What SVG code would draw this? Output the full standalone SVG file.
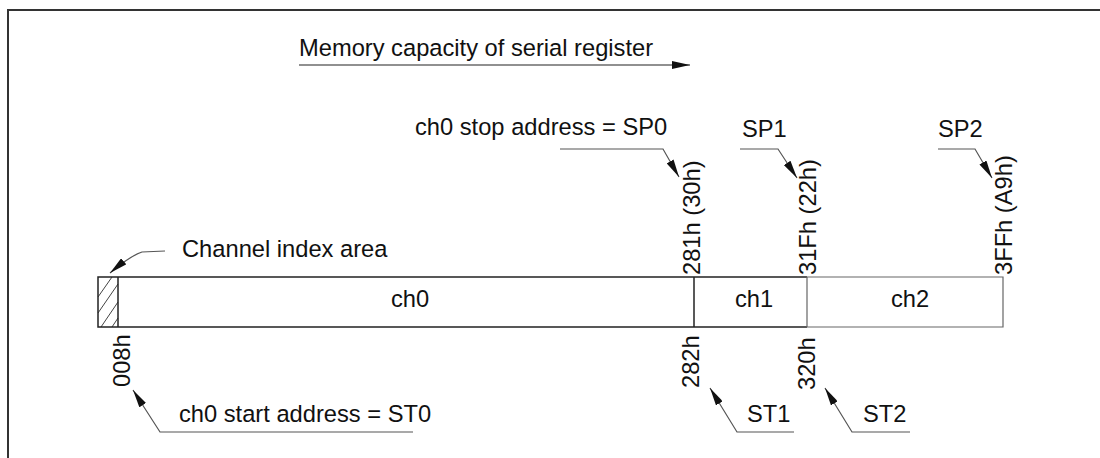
<svg xmlns="http://www.w3.org/2000/svg" width="1100" height="458" viewBox="0 0 1100 458">
<style>
text{font-family:"Liberation Sans",Arial,sans-serif;font-size:23.7px;fill:#111}
.frame{fill:none;stroke:#333;stroke-width:2}
.bar{fill:none;stroke:#222;stroke-width:1.5}
.thin{fill:none;stroke:#666;stroke-width:1.2}
.lead{fill:none;stroke:#555;stroke-width:1.2}
.hatch{stroke:#444;stroke-width:1}
</style>
<defs>
<marker id="ah" viewBox="0 0 18 8" refX="18" refY="4" markerWidth="18" markerHeight="8" markerUnits="userSpaceOnUse" orient="auto">
<path d="M0,0 L18,4 L0,8 Z" fill="#111"/>
</marker>
</defs>
<path class="frame" d="M8,458 L8,10 L1100,10"/>
<g id="title">
<text x="299" y="56">Memory capacity of serial register</text>
</g>
<g id="register">
<rect x="98" y="277" width="20" height="50" fill="#fff" stroke="none"/>
<g class="hatch">
<line x1="98" y1="297" x2="112" y2="277"/>
<line x1="98" y1="313" x2="118" y2="284"/>
<line x1="101" y1="327" x2="118" y2="302"/>
<line x1="112" y1="327" x2="118" y2="318"/>
</g>
<path class="bar" d="M807,277 L98,277 L98,327 L807,327"/>
<line class="bar" x1="118" y1="277" x2="118" y2="327"/>
<line class="bar" x1="694" y1="277" x2="694" y2="327"/>
<path class="thin" d="M807,277 L1003,277 L1003,327 L807,327 Z"/>
<text x="410" y="307" text-anchor="middle">ch0</text>
<text x="754" y="307" text-anchor="middle">ch1</text>
<text x="910" y="307" text-anchor="middle">ch2</text>
</g>
<g id="labels">
<text x="182" y="257">Channel index area</text>
<text x="415" y="135">ch0 stop address = SP0</text>
<text x="742" y="137">SP1</text>
<text x="938" y="137">SP2</text>
<text x="179" y="422">ch0 start address = ST0</text>
<text x="747" y="422">ST1</text>
<text x="863" y="422">ST2</text>
<text transform="translate(700,275) rotate(-90)">281h (30h)</text>
<text transform="translate(816,275) rotate(-90)">31Fh (22h)</text>
<text transform="translate(1012,275) rotate(-90)">3FFh (A9h)</text>
<text transform="translate(130,387) rotate(-90)">008h</text>
<text transform="translate(699,388) rotate(-90)">282h</text>
<text transform="translate(815,390) rotate(-90)">320h</text>
</g>
<g id="connectors">
<line x1="299" y1="65" x2="690" y2="65" stroke="#222" stroke-width="1.2" marker-end="url(#ah)"/>
<path class="lead" d="M165,251 L142,252 Q130,256 110,273" marker-end="url(#ah)"/>
<path class="lead" d="M560,149 L663,149 L679,177" marker-end="url(#ah)"/>
<path class="lead" d="M740,149 L778,149 L797,178" marker-end="url(#ah)"/>
<path class="lead" d="M938,149 L975,149 L992,178" marker-end="url(#ah)"/>
<path class="lead" d="M413,432 L160,432 L133,390" marker-end="url(#ah)"/>
<path class="lead" d="M794,432 L737,432 L710,388" marker-end="url(#ah)"/>
<path class="lead" d="M910,432 L852,432 L825,388" marker-end="url(#ah)"/>
</g>
</svg>
